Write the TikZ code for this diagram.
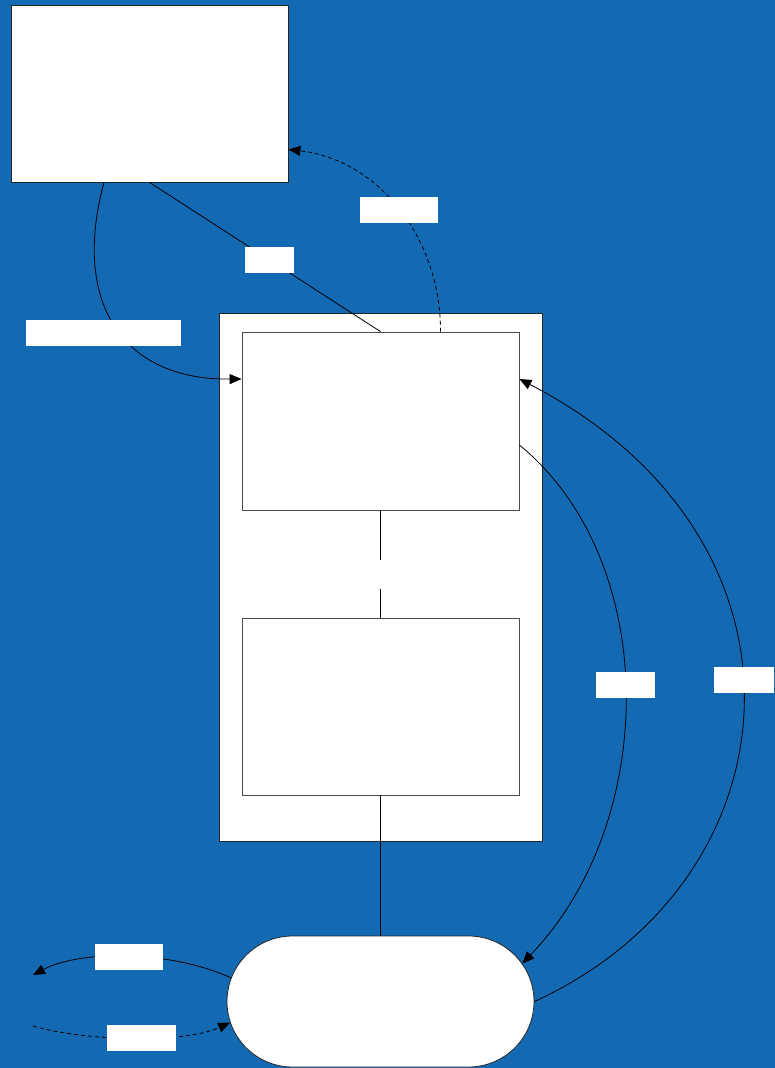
\documentclass[tikz,border=0pt]{standalone}
\usepackage{tikz}
\usetikzlibrary{arrows.meta,positioning,calc,shapes.misc}
\definecolor{bgblue}{RGB}{20,105,179}

\begin{document}
\begin{tikzpicture}[
    x=1pt,y=-1pt,
    box/.style={draw=black!85,fill=white,line width=0.8pt,inner sep=0pt},
    framebox/.style={draw=black!70,fill=white,line width=0.8pt,inner sep=0pt},
    endbox/.style={draw=black!85,fill=white,line width=0.8pt,inner sep=0pt,rounded rectangle,minimum width=307pt,minimum height=131pt},
    lbl/.style={fill=white,inner sep=0pt,minimum height=26pt},
    conn/.style={line width=0.8pt},
    dashline/.style={dash pattern=on 4pt off 3pt},
    arrow/.style={conn,-{Triangle[length=12pt,width=10pt]}}
]
\useasboundingbox (0,0) rectangle (775,1068);
\fill[bgblue] (0,0) rectangle (775,1068);
% boxes
\node[box,minimum width=277pt,minimum height=177pt] (store) at (149.5,93.5) {};
\node[box,minimum width=323pt,minimum height=528pt] (frame) at (380.5,577) {};
\node[framebox,minimum width=277pt,minimum height=178pt] (upper) at (380.5,421) {};
\node[framebox,minimum width=277pt,minimum height=177pt] (lower) at (380.5,706.5) {};
\node[endbox] (term) at (380.5,1001.5) {};
\coordinate (outL) at (33,975);
\coordinate (inL) at (33,1026);
% connectors
\draw[conn] (store.south) -- node[lbl,minimum width=49pt,pos=0.52] (lblA) {} (upper.north);
\draw[arrow,dashline] ([xshift=60pt]upper.north) .. controls (441,240) and (380,160) .. node[lbl,minimum width=78pt] (lblB) {} ([yshift=-56pt]store.east);
\draw[arrow] ([xshift=-45.5pt]store.south) .. controls (72,300) and (120,380) .. node[lbl,minimum width=155pt,pos=0.54,xshift=-18pt] (lblC) {} ([yshift=42pt]upper.west);
\draw[conn] (upper.south) -- node[fill=white,inner sep=0pt,minimum width=20pt,minimum height=29pt,pos=0.6] (gap) {} (lower.north);
\draw[arrow] ([yshift=-24pt]upper.east) .. controls (660,560) and (660,820) .. node[lbl,minimum width=59pt,pos=0.485] (lblD) {} (term.15);
\draw[arrow] (term.east) .. controls (800,880) and (830,540) .. node[lbl,minimum width=60pt,pos=0.535,xshift=2pt] (lblE) {} ([yshift=42pt]upper.east);
\draw[conn] (lower.south) -- (term.north);
\draw[arrow] (term.171) .. controls (170,950) and (80,950) .. node[lbl,minimum width=68pt,pos=0.49] (lblF) {} (outL);
\draw[arrow,dashline] (inL) .. controls (80,1040) and (180,1045) .. node[lbl,minimum width=69pt,pos=0.55] (lblG) {} (term.188);
\end{tikzpicture}
\end{document}
